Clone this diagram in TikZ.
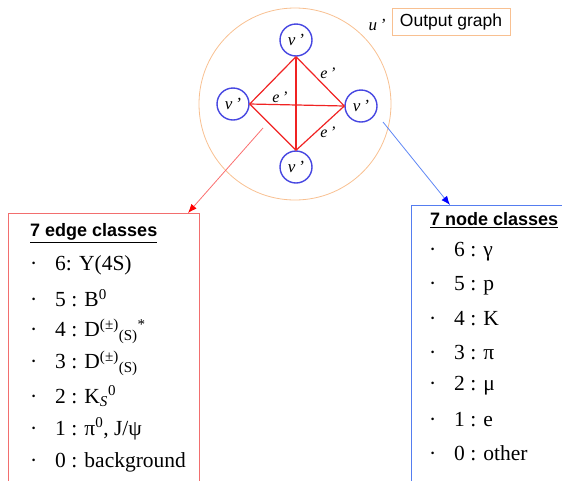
\documentclass[tikz,border=0pt]{standalone}
\usepackage{fontspec}
\setmainfont{Liberation Serif}
\setsansfont{Liberation Sans}
\usetikzlibrary{arrows.meta}
\definecolor{graphorange}{RGB}{248,192,145}
\definecolor{nodeblue}{RGB}{70,70,225}
\definecolor{edgered}{RGB}{240,35,35}
\definecolor{arrowred}{RGB}{250,110,110}
\definecolor{arrowblue}{RGB}{95,135,245}
\definecolor{boxred}{RGB}{242,110,110}
\definecolor{boxblue}{RGB}{85,125,240}
\tikzset{
  vnode/.style={draw=nodeblue, line width=1.4pt, circle, minimum size=32pt, inner sep=0pt,
    font=\fontsize{17}{17}\selectfont\itshape},
  eline/.style={draw=edgered, line width=1.2pt},
  elabel/.style={font=\fontsize{16}{16}\selectfont\itshape, inner sep=0pt},
  classbox/.style={line width=1pt, anchor=north west, minimum height=300pt, inner sep=0pt},
  boxtitle/.style={font=\fontsize{18}{18}\selectfont\sffamily\bfseries, anchor=west, inner sep=0pt},
  item/.style={font=\fontsize{21.5}{21.5}\selectfont, anchor=west, inner sep=0pt}
}
\newcommand{\itemdot}{\makebox[25pt][l]{·}}
\begin{document}
\begin{tikzpicture}[x=1pt,y=-1pt]
\useasboundingbox (0,0) rectangle (562,480);
\clip (0,0) rectangle (562,480);
% output graph
\node[circle, draw=graphorange, line width=0.8pt, minimum size=192pt] (u) at (295,104) {};
\node[vnode] (vt) at (296,40) {v\,'};
\node[vnode] (vl) at (233,104) {v\,'};
\node[vnode] (vr) at (361,106) {v\,'};
\node[vnode] (vb) at (296,167) {v\,'};
\draw[eline] (vt.south) -- (vb.north);
\draw[eline] (vl.east) -- (vr.west);
\draw[eline] (vt.south) -- (vl.east);
\draw[eline] (vt.south) -- (vr.west);
\draw[eline] (vb.north) -- (vl.east);
\draw[eline] (vb.north) -- (vr.west);
\node[elabel] (e1) at (328,73) {e\,'};
\node[elabel] (e2) at (280,97) {e\,'};
\node[elabel] (e3) at (328,132) {e\,'};
\node[elabel, font=\fontsize{17}{17}\selectfont\itshape] (ulabel) at (377,25) {u\,'};
\node[draw=graphorange, line width=0.8pt, minimum width=118pt, minimum height=27pt, inner sep=0pt,
  font=\fontsize{17.5}{17.5}\selectfont\sffamily] (outbox) at (451,21.5) {Output graph};
% class boxes
\node[classbox, draw=boxred, minimum width=191pt] (ebox) at (8,213) {};
\node[classbox, draw=boxblue, minimum width=170pt] (nbox) at (411,205) {};
\coordinate (efrom) at (263,128);
\coordinate (nfrom) at (383,122);
\draw[arrowred, line width=0.8pt, -{Latex[length=9pt, width=7pt, color=red]}] (efrom) -- ([xshift=-12pt]ebox.north east);
\draw[arrowblue, line width=0.8pt, -{Latex[length=9pt, width=7pt, color=blue]}] (nfrom) -- ([xshift=39pt]nbox.north west);
% edge classes
\node[boxtitle] (etitle) at (30,233) {\underline{7 edge classes}};
\node[item] (e6) at (30,265) {\itemdot 6: Y(4S)};
\node[item] (e5) at (30,298) {\itemdot 5 : B\textsuperscript{0}};
\node[item] (e4) at (30,331) {\itemdot 4 : D\textsuperscript{(±)}\textsubscript{(S)}\textsuperscript{*}};
\node[item] (e3c) at (30,363) {\itemdot 3 : D\textsuperscript{(±)}\textsubscript{(S)}};
\node[item] (e2c) at (30,396) {\itemdot 2 : K\textsubscript{\textit{S}}\textsuperscript{0}};
\node[item] (e1c) at (30,429) {\itemdot 1 : π\textsuperscript{0}, J/ψ};
\node[item] (e0) at (30,462) {\itemdot 0 : background};
% node classes
\node[boxtitle] (ntitle) at (430,220) {\underline{7 node classes}};
\node[item] (n6) at (429,252) {\itemdot 6 : γ};
\node[item] (n5) at (429,285.5) {\itemdot 5 : p};
\node[item] (n4) at (429,319) {\itemdot 4 : K};
\node[item] (n3) at (429,352.5) {\itemdot 3 : π};
\node[item] (n2) at (429,386) {\itemdot 2 : μ};
\node[item] (n1) at (429,419.5) {\itemdot 1 : e};
\node[item] (n0) at (429,453) {\itemdot 0 : other};
\end{tikzpicture}
\end{document}
